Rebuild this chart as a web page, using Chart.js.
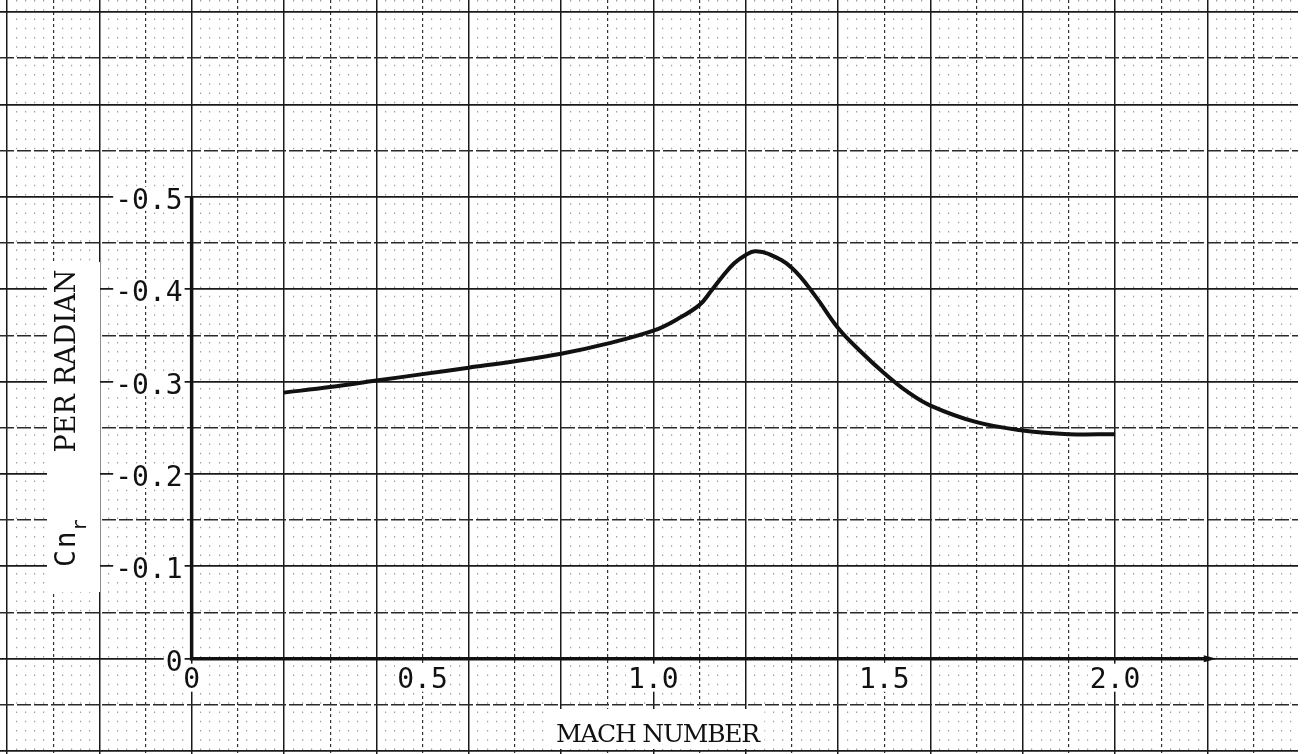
<!DOCTYPE html>
<html lang="en">
<head>
<meta charset="UTF-8" />
<title>Cnr per radian vs Mach number</title>
<style>
  html, body { margin: 0; padding: 0; background: #fff; }
  #wrap { width: 1310px; height: 754px; }
</style>
<script src="https://cdn.jsdelivr.net/npm/chart.js"></script>
</head>
<body>
<div id="wrap"><canvas id="cnrChart" width="1310" height="754"></canvas></div>
<script>
// curve
const machNumber = [0.2, 0.3, 0.4, 0.5, 0.6, 0.7, 0.8, 0.9, 1.0, 1.05, 1.1, 1.125, 1.15, 1.175,
  1.2, 1.22, 1.25, 1.3, 1.35, 1.4, 1.45, 1.5, 1.55, 1.6, 1.7, 1.8, 1.9, 2.0];
const cnrPerRadian = [-0.288, -0.294, -0.301, -0.308, -0.315, -0.322, -0.330, -0.341, -0.355, -0.367,
  -0.383, -0.398, -0.414, -0.428, -0.437, -0.441, -0.438, -0.423, -0.393, -0.358, -0.332, -0.309,
  -0.289, -0.274, -0.256, -0.247, -0.243, -0.243];

const xTickValues = [0, 0.5, 1.0, 1.5, 2.0];
const xTickLabels = ['0', '0.5', '1.0', '1.5', '2.0'];
const yTickValues = [0, -0.1, -0.2, -0.3, -0.4, -0.5];
const yTickLabels = ['0', '-0.1', '-0.2', '-0.3', '-0.4', '-0.5'];

const xTitle = 'MACH NUMBER';
const yTitle = 'PER RADIAN';

// paper extent in data units
const X_MIN = -0.415, X_MAX = 2.396;
const Y_MIN = -0.713, Y_MAX = 0.1032;

function onStep(v, step) {
  const r = v / step;
  return Math.abs(r - Math.round(r)) < 1e-6;
}

// one axis per line style of the graph paper
function paperAxis(pos, step, color, width, dash, keep) {
  const horiz = pos === 'bottom';
  return {
    type: 'linear',
    position: pos,
    min: horiz ? X_MIN : Y_MIN,
    max: horiz ? X_MAX : Y_MAX,
    reverse: !horiz,
    ticks: { display: false, stepSize: step, maxTicksLimit: 1000, includeBounds: false },
    grid: {
      drawTicks: false,
      lineWidth: width,
      color: c => (c.tick && keep(c.tick.value)) ? color : 'rgba(0,0,0,0)'
    },
    border: { display: false, dash: dash }
  };
}

const paperPlugin = {
  id: 'paper',
  beforeDatasetsDraw(chart) {
    const { ctx, scales: { x, y } } = chart;
    const x0 = x.getPixelForValue(0), y0 = y.getPixelForValue(0);
    const xEnd = x.getPixelForValue(2.22);
    ctx.save();
    ctx.strokeStyle = '#111';
    ctx.lineWidth = 3.5;
    ctx.beginPath();
    ctx.moveTo(x0, y.getPixelForValue(-0.5));
    ctx.lineTo(x0, y0);
    ctx.lineTo(xEnd - 8, y0);
    ctx.stroke();
    ctx.fillStyle = '#111';
    ctx.beginPath();
    ctx.moveTo(xEnd, y0);
    ctx.lineTo(xEnd - 13, y0 - 3.5);
    ctx.lineTo(xEnd - 13, y0 + 3.5);
    ctx.closePath();
    ctx.fill();
    ctx.restore();
  },
  afterDraw(chart) {
    const { ctx, scales: { x, y } } = chart;
    const x0 = x.getPixelForValue(0), y0 = y.getPixelForValue(0);
    ctx.save();
    ctx.font = '28px "DejaVu Sans Mono"';
    ctx.textBaseline = 'alphabetic';

    // y tick labels, left of the axis
    ctx.textAlign = 'right';
    yTickValues.forEach((v, i) => {
      const py = y.getPixelForValue(v);
      const txt = yTickLabels[i];
      const w = ctx.measureText(txt).width;
      const right = x0 - 9;
      ctx.fillStyle = '#fff';
      ctx.fillRect(right - w - 2, py - 10, w + 4, 24);
      ctx.fillStyle = '#111';
      ctx.fillText(txt, right, py + 12);
    });

    // x tick labels, under the axis
    ctx.textAlign = 'center';
    xTickValues.forEach((v, i) => {
      const px = x.getPixelForValue(v);
      const txt = xTickLabels[i];
      const w = ctx.measureText(txt).width;
      ctx.fillStyle = '#fff';
      ctx.fillRect(px - w / 2 - 2, y0 + 5, w + 4, 28);
      ctx.fillStyle = '#111';
      ctx.fillText(txt, px, y0 + 29);
    });

    // x title
    ctx.font = '25px "DejaVu Serif"';
    ctx.letterSpacing = '0px';
    let w = ctx.measureText(xTitle).width;
    ctx.letterSpacing = ((203 - w) / xTitle.length).toFixed(2) + 'px';
    const tx = x.getPixelForValue(1.0) + 4;
    ctx.fillStyle = '#fff';
    ctx.fillRect(tx - 107, 709, 214, 40);
    ctx.fillStyle = '#111';
    ctx.fillText(xTitle, tx, 742);

    // y title, rotated
    ctx.fillStyle = '#fff';
    ctx.fillRect(47, 262, 53, 330);
    ctx.fillStyle = '#111';
    ctx.save();
    ctx.translate(75, 361);
    ctx.rotate(-Math.PI / 2);
    ctx.font = '27px "DejaVu Serif"';
    ctx.letterSpacing = '0px';
    w = ctx.measureText(yTitle).width;
    ctx.letterSpacing = ((183 - w) / yTitle.length).toFixed(2) + 'px';
    ctx.textAlign = 'center';
    ctx.fillText(yTitle, 0, 0);
    ctx.restore();

    // C n r symbol
    ctx.save();
    ctx.translate(75, 567);
    ctx.rotate(-Math.PI / 2);
    ctx.letterSpacing = '2px';
    ctx.textAlign = 'left';
    ctx.font = '28px "DejaVu Sans Mono"';
    ctx.fillText('Cn', 0, 0);
    const cw = ctx.measureText('Cn').width;
    ctx.letterSpacing = '0px';
    ctx.font = '20px "DejaVu Sans Mono"';
    ctx.fillText('r', cw - 2, 11);
    ctx.restore();

    ctx.restore();
  }
};

new Chart(document.getElementById('cnrChart'), {
  type: 'line',
  data: {
    datasets: [{
      label: 'Cnr',
      data: machNumber.map((m, i) => ({ x: m, y: cnrPerRadian[i] })),
      borderColor: '#111',
      borderWidth: 4,
      pointRadius: 0,
      tension: 0.4,
      fill: false,
      xAxisID: 'x',
      yAxisID: 'y'
    }]
  },
  options: {
    responsive: false,
    animation: false,
    devicePixelRatio: 1,
    layout: { padding: { left: 0, right: 12, top: 0, bottom: 0 } },
    plugins: { legend: { display: false }, tooltip: { enabled: false } },
    scales: {
      xFine: paperAxis('bottom', 0.02, '#a0a0a0', 1.2, [1.5, 7.74], v => !onStep(v, 0.1)),
      xMinor: paperAxis('bottom', 0.1, '#333', 1.2, [3, 3], v => !onStep(v, 0.2)),
      x: paperAxis('bottom', 0.2, '#1a1a1a', 1.5, [], v => true),
      yMinor: paperAxis('left', 0.05, '#2a2a2a', 1.4, [14, 3], v => !onStep(v, 0.1)),
      y: paperAxis('left', 0.1, '#1a1a1a', 1.7, [], v => true)
    }
  },
  plugins: [paperPlugin]
});
</script>
</body>
</html>
